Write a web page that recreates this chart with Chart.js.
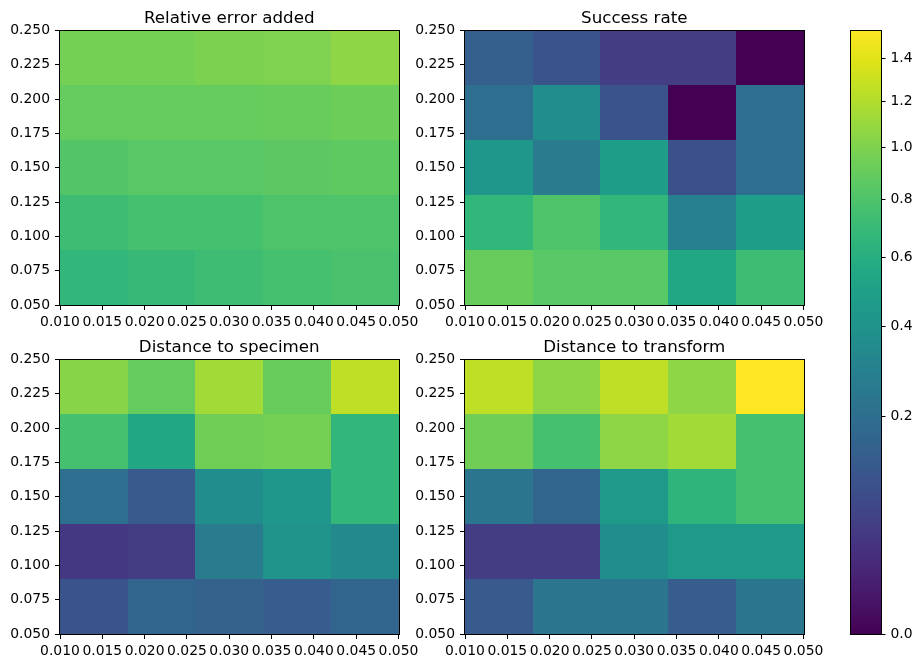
<!DOCTYPE html>
<html>
<head>
<meta charset="utf-8">
<script src="https://cdn.jsdelivr.net/npm/chart.js@4.4.0/dist/chart.umd.min.js"></script>
<style>
  html, body { margin: 0; padding: 0; background: #fff; }
  #fig { position: relative; width: 922px; height: 668px; }
  #fig canvas { position: absolute; left: 0; top: 0; }
</style>
</head>
<body>
<div id="fig">
  <canvas id="c1" width="922" height="668"></canvas>
  <canvas id="c2" width="922" height="668"></canvas>
  <canvas id="c3" width="922" height="668"></canvas>
  <canvas id="c4" width="922" height="668"></canvas>
  <canvas id="cbar" width="922" height="668"></canvas>
</div>
<script>
// bin edges of the grid (x = first parameter, y = second parameter)
const xEdges = [0.010, 0.018, 0.026, 0.034, 0.042, 0.050];
const yEdges = [0.05, 0.09, 0.13, 0.17, 0.21, 0.25];
const xTicks = [0.010, 0.015, 0.020, 0.025, 0.030, 0.035, 0.040, 0.045, 0.050];
const yTicks = [0.050, 0.075, 0.100, 0.125, 0.150, 0.175, 0.200, 0.225, 0.250];

// rows go from bottom (y = 0.05) to top (y = 0.25)
const relError = [
  [0.67, 0.69, 0.73, 0.76, 0.78],
  [0.73, 0.76, 0.76, 0.80, 0.80],
  [0.82, 0.84, 0.84, 0.86, 0.87],
  [0.89, 0.90, 0.90, 0.91, 0.93],
  [0.96, 0.96, 0.99, 1.00, 1.06]
];
const successRate = [
  [0.91, 0.84, 0.84, 0.55, 0.73],
  [0.67, 0.80, 0.67, 0.29, 0.47],
  [0.43, 0.27, 0.47, 0.09, 0.20],
  [0.20, 0.36, 0.10, 0.00, 0.20],
  [0.14, 0.10, 0.05, 0.05, 0.00]
];
const distSpecimen = [
  [0.10, 0.16, 0.15, 0.13, 0.16],
  [0.04, 0.05, 0.27, 0.40, 0.34],
  [0.20, 0.12, 0.36, 0.43, 0.67],
  [0.76, 0.55, 0.94, 0.96, 0.67],
  [1.04, 0.89, 1.14, 0.91, 1.25]
];
const distTransform = [
  [0.12, 0.23, 0.23, 0.13, 0.23],
  [0.05, 0.05, 0.36, 0.45, 0.45],
  [0.23, 0.16, 0.45, 0.65, 0.76],
  [0.94, 0.76, 1.06, 1.14, 0.76],
  [1.25, 1.06, 1.25, 1.06, 1.54]
];
const cbarTicks = [0.0, 0.2, 0.4, 0.6, 0.8, 1.0, 1.2, 1.4];

const vmin = 0, vmax = 1.54, gamma = 0.5;

const viridis = ['#440154','#471365','#482475','#463480','#414487','#3b528b','#355f8d',
  '#2f6c8e','#2a788e','#25848e','#21918c','#1e9c89','#22a884','#2fb47c','#44bf70',
  '#5ec962','#7ad151','#9bd93c','#bddf26','#dfe318','#fde725'];

function hexRgb(h) {
  return [parseInt(h.slice(1,3),16), parseInt(h.slice(3,5),16), parseInt(h.slice(5,7),16)];
}
function norm(v) {
  const t = Math.max(0, Math.min(1, (v - vmin) / (vmax - vmin)));
  return Math.pow(t, gamma);
}
function cmap(t) {
  t = Math.max(0, Math.min(1, t));
  const n = viridis.length - 1;
  const i = Math.min(n - 1, Math.floor(t * n));
  const f = t * n - i;
  const a = hexRgb(viridis[i]), b = hexRgb(viridis[i + 1]);
  const c = a.map((v, k) => Math.round(v + (b[k] - v) * f));
  return 'rgb(' + c.join(',') + ')';
}

Chart.defaults.font.family = "'DejaVu Sans', sans-serif";
Chart.defaults.font.size = 13.9;
Chart.defaults.color = '#000';
Chart.defaults.animation = false;

function drawFrame(chart) {
  const a = chart.chartArea, ctx = chart.ctx;
  ctx.save();
  ctx.strokeStyle = '#000';
  ctx.lineWidth = 1;
  ctx.strokeRect(Math.round(a.left) - 0.5, Math.round(a.top) - 0.5,
    Math.round(a.right) - Math.round(a.left) + 1, Math.round(a.bottom) - Math.round(a.top) + 1);
  ctx.restore();
}

const heatPlugin = {
  id: 'heat',
  beforeDatasetsDraw(chart) {
    const ctx = chart.ctx, xs = chart.scales.x, ys = chart.scales.y;
    chart.data.datasets[0].data.forEach(d => {
      const x0 = Math.round(xs.getPixelForValue(d.x0)), x1 = Math.round(xs.getPixelForValue(d.x1));
      const y0 = Math.round(ys.getPixelForValue(d.y0)), y1 = Math.round(ys.getPixelForValue(d.y1));
      ctx.fillStyle = cmap(norm(d.v));
      ctx.fillRect(x0, y1, x1 - x0, y0 - y1);
    });
  },
  afterDraw(chart, args, opts) {
    drawFrame(chart);
    if (opts.title) {
      const a = chart.chartArea, ctx = chart.ctx;
      ctx.save();
      ctx.fillStyle = '#000';
      ctx.font = "16.7px 'DejaVu Sans', sans-serif";
      ctx.textAlign = 'center';
      ctx.textBaseline = 'alphabetic';
      ctx.fillText(opts.title, (a.left + a.right) / 2, a.top - 8);
      ctx.restore();
    }
  }
};

function cells(values) {
  const out = [];
  values.forEach((row, r) => row.forEach((v, c) => {
    out.push({
      x: (xEdges[c] + xEdges[c + 1]) / 2, y: (yEdges[r] + yEdges[r + 1]) / 2,
      x0: xEdges[c], x1: xEdges[c + 1], y0: yEdges[r], y1: yEdges[r + 1], v: v
    });
  }));
  return out;
}

const axisW = 55, axisH = 25;

function panel(id, title, values, area) {
  const [L, T, R, B] = area;
  new Chart(document.getElementById(id), {
    type: 'scatter',
    data: { datasets: [{ data: cells(values), pointRadius: 0, pointHoverRadius: 0 }] },
    plugins: [heatPlugin],
    options: {
      responsive: false,
      devicePixelRatio: 1,
      events: [],
      layout: { padding: { left: L - axisW, right: 922 - R, top: T, bottom: 668 - B - axisH } },
      plugins: { legend: { display: false }, tooltip: { enabled: false }, heat: { title: title } },
      scales: {
        x: {
          type: 'linear', min: xEdges[0], max: xEdges[xEdges.length - 1],
          afterBuildTicks: s => { s.ticks = xTicks.map(v => ({ value: v })); },
          afterFit: s => { s.height = axisH; s.paddingLeft = 0; s.paddingRight = 0; },
          ticks: { callback: v => v.toFixed(3), maxRotation: 0, autoSkip: false, padding: 4 },
          grid: { drawOnChartArea: false, tickLength: 5, color: '#000', lineWidth: 1 },
          border: { display: false }
        },
        y: {
          type: 'linear', min: yEdges[0], max: yEdges[yEdges.length - 1],
          afterBuildTicks: s => { s.ticks = yTicks.map(v => ({ value: v })); },
          afterFit: s => { s.width = axisW; s.paddingTop = 0; s.paddingBottom = 0; },
          ticks: { callback: v => v.toFixed(3), autoSkip: false, padding: 5 },
          grid: { drawOnChartArea: false, tickLength: 5, color: '#000', lineWidth: 1 },
          border: { display: false }
        }
      }
    }
  });
}

panel('c1', 'Relative error added', relError, [60, 30.5, 398.5, 305]);
panel('c2', 'Success rate', successRate, [465, 30.5, 803.5, 305]);
panel('c3', 'Distance to specimen', distSpecimen, [60, 359.5, 398.5, 634]);
panel('c4', 'Distance to transform', distTransform, [465, 359.5, 803.5, 634]);

// colorbar: one pixel row at a time, colour taken from the scale value at that row
const cbarPlugin = {
  id: 'cbarFill',
  beforeDatasetsDraw(chart) {
    const ctx = chart.ctx, a = chart.chartArea, ys = chart.scales.y;
    const top = Math.round(a.top), bottom = Math.round(a.bottom);
    const left = Math.round(a.left), right = Math.round(a.right);
    for (let y = top; y < bottom; y++) {
      ctx.fillStyle = cmap(ys.getValueForPixel(y + 0.5));
      ctx.fillRect(left, y, right - left, 1);
    }
  },
  afterDraw(chart) { drawFrame(chart); }
};

const cbarW = 40;
new Chart(document.getElementById('cbar'), {
  type: 'scatter',
  data: { datasets: [{ data: [], pointRadius: 0 }] },
  plugins: [cbarPlugin],
  options: {
    responsive: false,
    devicePixelRatio: 1,
    events: [],
    layout: { padding: { left: 850.5, right: 922 - 880.5 - cbarW, top: 30.5, bottom: 668 - 634 } },
    plugins: { legend: { display: false }, tooltip: { enabled: false } },
    scales: {
      x: { display: false, min: 0, max: 1 },
      y: {
        type: 'linear', position: 'right', min: 0, max: 1,
        afterBuildTicks: s => { s.ticks = cbarTicks.map(v => ({ value: norm(v) })); },
        afterFit: s => { s.width = cbarW; s.paddingTop = 0; s.paddingBottom = 0; },
        ticks: { callback: (v, i) => cbarTicks[i].toFixed(1), autoSkip: false, padding: 5 },
        grid: { drawOnChartArea: false, tickLength: 5, color: '#000', lineWidth: 1 },
        border: { display: false }
      }
    }
  }
});
</script>
</body>
</html>
